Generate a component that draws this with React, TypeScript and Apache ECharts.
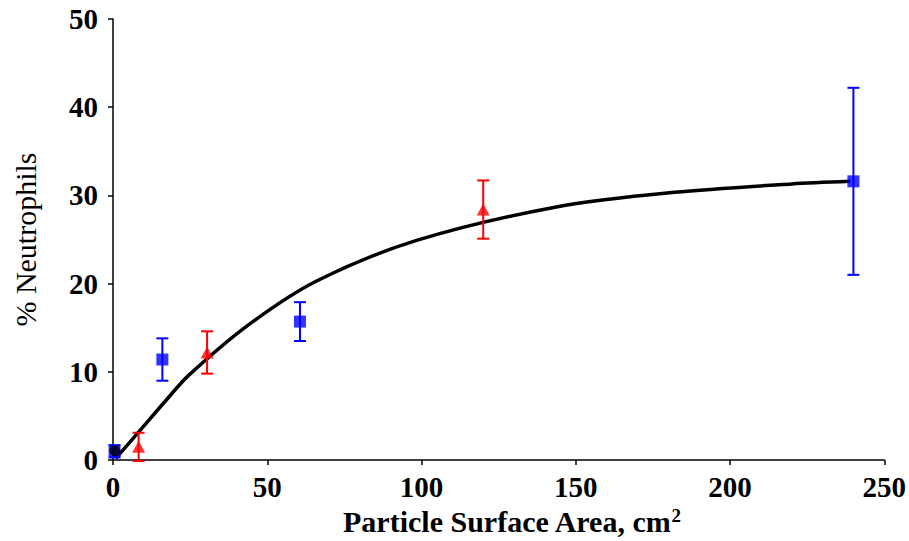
import React, { useEffect, useRef } from "react";
import * as echarts from "echarts";

// Blue squares: x, y, error (±)
const blueX = [0.5, 16, 60.6, 240];
const blueY = [1.0, 11.4, 15.7, 31.6];
const blueErr = [0.7, 2.4, 2.2, 10.6];

// Red triangles
const redX = [8.3, 30.5, 120];
const redY = [1.5, 12.2, 28.4];
const redErr = [1.6, 2.4, 3.3];

// Black circle (control)
const blackX = [0.6];
const blackY = [1.05];

// Fitted curve
const curveX = [0.9, 9.6, 17, 24.5, 43.8, 66, 98.4, 143.7, 182, 220, 239];
const curveY = [0.2, 3.7, 6.7, 9.6, 15.3, 20.3, 24.9, 28.7, 30.35, 31.3, 31.6];

const xTicks = { min: 0, max: 250, interval: 50 };
const yTicks = { min: 0, max: 50, interval: 10 };

const FONT = "'Liberation Serif', 'Times New Roman', serif";

function errorSeries(xs: number[], ys: number[], errs: number[], color: string, z: number) {
  return {
    type: "custom",
    z,
    clip: false,
    data: xs.map((x, i) => [x, ys[i] - errs[i], ys[i] + errs[i]]),
    renderItem: (params: any, api: any) => {
      const x = api.value(0);
      const lo = api.coord([x, api.value(1)]);
      const hi = api.coord([x, api.value(2)]);
      const w = 6;
      const style = { stroke: color, lineWidth: 2 };
      return {
        type: "group",
        children: [
          { type: "line", shape: { x1: lo[0], y1: lo[1], x2: hi[0], y2: hi[1] }, style },
          { type: "line", shape: { x1: lo[0] - w, y1: lo[1], x2: lo[0] + w, y2: lo[1] }, style },
          { type: "line", shape: { x1: hi[0] - w, y1: hi[1], x2: hi[0] + w, y2: hi[1] }, style },
        ],
      };
    },
  };
}

export default function App() {
  const ref = useRef<HTMLDivElement>(null);
  useEffect(() => {
    if (!ref.current) return;
    const chart = echarts.init(ref.current, null, { renderer: "svg" });
    chart.setOption({
      animation: false,
      backgroundColor: "#ffffff",
      grid: { left: 113, right: 17, top: 19, bottom: 79 },
      xAxis: {
        type: "value",
        min: xTicks.min,
        max: xTicks.max,
        interval: xTicks.interval,
        splitLine: { show: false },
        axisLine: { show: true, onZero: false, lineStyle: { color: "#000", width: 1.5 } },
        axisTick: { show: true, length: 5, lineStyle: { color: "#000", width: 1.5 } },
        axisLabel: { color: "#000", fontFamily: FONT, fontWeight: "bold", fontSize: 29, margin: 12 },
        name: "Particle Surface Area, cm{sup|2}",
        nameLocation: "middle",
        nameGap: 29,
        nameTextStyle: {
          color: "#000",
          fontFamily: FONT,
          fontWeight: "bold",
          fontSize: 30,
          lineHeight: 30,
          padding: [0, 0, 0, 26],
          rich: {
            sup: { fontFamily: FONT, fontWeight: "bold", fontSize: 19, lineHeight: 19, verticalAlign: "top", color: "#000" },
          },
        },
      },
      yAxis: {
        type: "value",
        min: yTicks.min,
        max: yTicks.max,
        interval: yTicks.interval,
        splitLine: { show: false },
        axisLine: { show: true, lineStyle: { color: "#000", width: 1.5 } },
        axisTick: { show: true, length: 5, lineStyle: { color: "#000", width: 1.5 } },
        axisLabel: { color: "#000", fontFamily: FONT, fontWeight: "bold", fontSize: 29, margin: 15 },
        name: "% Neutrophils",
        nameLocation: "middle",
        nameGap: 73,
        nameTextStyle: { color: "#000", fontFamily: FONT, fontSize: 30 },
      },
      series: [
        {
          type: "line",
          z: 2,
          smooth: 0.3,
          symbol: "none",
          data: curveX.map((x, i) => [x, curveY[i]]),
          lineStyle: { color: "#000", width: 3.5 },
        },
        errorSeries(blueX, blueY, blueErr, "#0000ff", 3),
        errorSeries(redX, redY, redErr, "#ff0000", 3),
        {
          type: "scatter",
          z: 4,
          symbol: "rect",
          symbolSize: 12,
          data: blueX.map((x, i) => [x, blueY[i]]),
          itemStyle: { color: "#0000ff" },
        },
        {
          type: "scatter",
          z: 4,
          symbol: "triangle",
          symbolSize: [13, 12],
          data: redX.map((x, i) => [x, redY[i]]),
          itemStyle: { color: "#ff0000" },
        },
        {
          type: "scatter",
          z: 5,
          symbol: "circle",
          symbolSize: 11,
          clip: false,
          data: blackX.map((x, i) => [x, blackY[i]]),
          itemStyle: { color: "#000" },
        },
      ],
    });
    return () => chart.dispose();
  }, []);
  return <div ref={ref} style={{ position: "fixed", left: 0, top: 0, width: 909, height: 541 }} />;
}
